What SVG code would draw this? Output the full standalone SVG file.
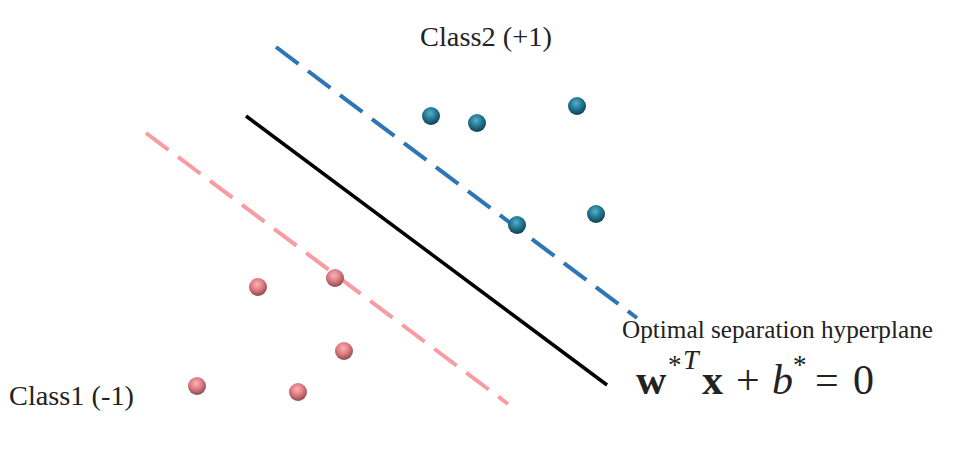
<svg xmlns="http://www.w3.org/2000/svg" width="957" height="450" viewBox="0 0 957 450">
<defs>
<radialGradient id="gb" cx="0.45" cy="0.35" r="0.65">
<stop offset="0" stop-color="#5bb0c8"/>
<stop offset="0.5" stop-color="#237a94"/>
<stop offset="1" stop-color="#0f3e50"/>
</radialGradient>
<radialGradient id="gp" cx="0.45" cy="0.35" r="0.65">
<stop offset="0" stop-color="#f7b3b8"/>
<stop offset="0.5" stop-color="#e27c84"/>
<stop offset="1" stop-color="#8a4a50"/>
</radialGradient>
<style>
.t{font-family:"Liberation Serif","Times New Roman",serif;fill:#222}
.b{fill:url(#gb)}
.p{fill:url(#gp)}
.dash{stroke-width:4;stroke-dasharray:28 12;fill:none}
</style>
</defs>
<rect width="957" height="450" fill="#fff"/>
<g id="connectors">
<line id="margin-plus" class="dash" x1="276" y1="47" x2="637" y2="318" stroke="#2e75b6"/>
<line id="margin-minus" class="dash" x1="146" y1="133" x2="508" y2="404" stroke="#f99ca2"/>
<line id="hyperplane" x1="246" y1="116" x2="607" y2="385" stroke="#000" stroke-width="3.5"/>
</g>
<g id="class2-points">
<circle class="b" cx="431" cy="116" r="9"/>
<circle class="b" cx="477" cy="123" r="9"/>
<circle class="b" cx="577" cy="106" r="9"/>
<circle class="b" cx="517" cy="225" r="9"/>
<circle class="b" cx="596" cy="214" r="9"/>
</g>
<g id="class1-points">
<circle class="p" cx="258" cy="287" r="9"/>
<circle class="p" cx="335" cy="278" r="9"/>
<circle class="p" cx="344" cy="351" r="9"/>
<circle class="p" cx="197" cy="386" r="9"/>
<circle class="p" cx="298" cy="392" r="9"/>
</g>
<g id="labels">
<text class="t" x="420" y="46" font-size="27" textLength="132" lengthAdjust="spacingAndGlyphs">Class2 (+1)</text>
<text class="t" x="9" y="405" font-size="27" textLength="125" lengthAdjust="spacingAndGlyphs">Class1 (-1)</text>
<text class="t" x="622" y="338" font-size="25" textLength="311" lengthAdjust="spacingAndGlyphs">Optimal separation hyperplane</text>
<text class="t" y="394" font-size="42" fill="#111"><tspan x="636" font-weight="bold">w</tspan><tspan x="668" y="374" font-size="27">*</tspan><tspan x="683" y="369" font-size="28" font-style="italic">T</tspan><tspan x="702" y="394" font-weight="bold">x</tspan><tspan x="736">+</tspan><tspan x="772" font-style="italic">b</tspan><tspan x="793" y="374" font-size="27">*</tspan><tspan x="815" y="394">=</tspan><tspan x="853">0</tspan></text>
</g>
</svg>
